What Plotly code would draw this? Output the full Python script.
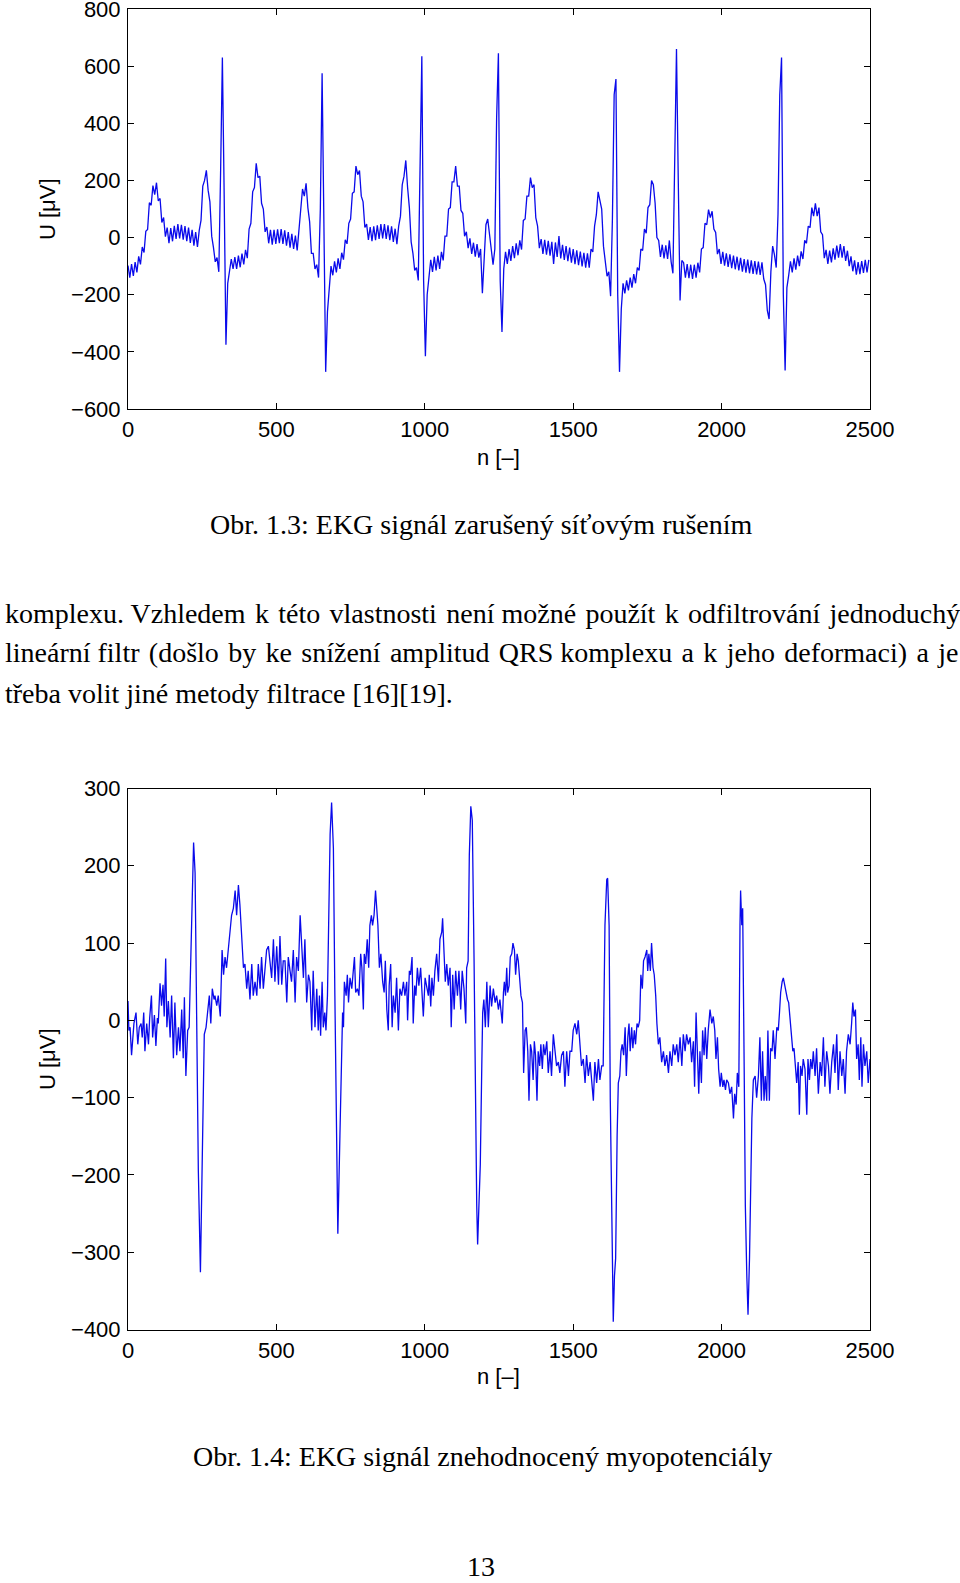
import plotly.graph_objects as go

W, H = 960, 1583
BLUE = "rgb(10,10,235)"

# --- Obr. 1.3: EKG with 50 Hz interference, one reading every 6 samples ---
top_step = 6
u_top_1 = [-98, -140, -93, -134, -86, -122, -66, -94, -33, -52,
           22, 28, 122, 113, 182, 150, 192, 128, 137, 53,
           70, 3, 35, -20, 33, -13, 41, -5, 47, -3,
           45, -7, 40, -13, 35, -19, 27, -28, 19, -33,
           25, 60, 180, 200, 235, 165, 125, 5, -35, -85,
           -70, -120, 230, 630, 150, -375, -160, -115, -75, -110,
           -68, -110, -63, -104, -56, -94, -43, -72, 30, 50,
           160, 175, 260, 210, 215, 120, 100, 20, 37, -20,
           27, -25, 27, -22]
u_top_2 = [29, -20, 30, -22, 25, -28, 19, -35, 13, -40,
           7, -45, 20, 80, 170, 145, 190, 105, 55, -55,
           -55, -110, -95, -140, 100, 575, 50, -470, -260, -170,
           -100, -132, -83, -122, -73, -110, -53, -77, -8, -22,
           50, 65, 155, 160, 250, 220, 235, 145, 125, 35,
           47, -8, 37, -13, 39, -9, 43, -5, 47, -3,
           47, -5, 43, -9, 39, -15, 31, -23, 40, 75,
           185, 215, 270, 175, 105, -15, -55, -115, -105, -150,
           200, 635, -150, -415]
u_top_3 = [-200, -130, -78, -120, -67, -115, -63, -110, -50, -80,
           5, 5, 100, 105, 195, 195, 250, 180, 180, 95,
           85, 5, 20, -37, -3, -57, -18, -67, -23, -70,
           -40, -195, -70, 45, 65, 5, -60, -95, -40, 420,
           645, -150, -330, -110, -50, -92, -40, -82, -30, -72,
           -20, -62, -10, -42, 60, 65, 145, 145, 210, 175,
           185, 70, 40, -37, -5, -57, -8, -60, -11, -63,
           -15, -92, -17, -68, 5, -73, -25, -78, -30, -83,
           -35, -88, -40, -93]
u_top_4 = [-45, -97, -49, -101, -53, -105, -55, -105, -40, -50,
           40, 80, 160, 135, 100, -30, -75, -135, -120, -205,
           60, 500, 555, -200, -470, -250, -160, -195, -150, -185,
           -140, -175, -128, -160, -105, -115, -40, -45, 30, 15,
           105, 115, 200, 185, 120, 0, -10, -68, -25, -73,
           -27, -75, -10, -85, -125, 250, 660, 200, -220, -80,
           -88, -140, -93, -142, -95, -145, -95, -140, -88, -122,
           -40, -35, 50, 45, 98, 70, 92, 30, 18, -58,
           -40, -92, -50, -98]
u_top_5 = [-55, -103, -59, -107, -63, -111, -67, -115, -71, -119,
           -75, -123, -77, -125, -80, -127, -82, -129, -84, -131,
           -87, -145, -165, -255, -285, -120, -30, -60, -105, 80,
           500, 630, -200, -465, -175, -132, -83, -122, -73, -112,
           -63, -100, -48, -75, -10, -20, 40, 35, 105, 75,
           120, 75, 105, 20, 10, -72, -43, -92, -46, -87,
           -38, -77, -28, -70, -23, -70, -30, -82, -46, -100,
           -66, -118, -80, -130, -86, -128, -82, -124, -78, -122,
           -78]

# --- Obr. 1.4: EKG with myopotentials, (sample, value) vertices ---
n_bot_1 = [0, 3, 7, 12, 20, 27, 33, 38, 44, 48, 53, 57, 63, 69, 73, 79, 83, 89, 94, 99,
           102, 108, 113, 118, 122, 127, 131, 136, 142, 147, 153, 158, 164, 170, 175, 181,
           186, 190, 195, 201, 206, 210, 215, 221, 226, 231, 237, 244, 250, 257, 263, 268,
           274, 279, 284, 290, 293, 299, 304, 311, 317, 322, 327, 332, 338, 344, 349, 355,
           361, 366, 372, 377, 383, 389, 394, 400, 405, 411, 417, 422, 428, 434, 439, 445,
           450, 456, 462, 467, 473, 478, 484, 490, 495, 501, 507, 512, 518, 523, 529, 535,
           540, 546, 551, 557, 563, 568, 574, 580, 585, 591, 596, 602, 608]
u_bot_1 = [25, -13, -9, -45, -4, 10, -31, -9, -4, -22, 10, -40, -4, -31, 3, 32, -22, 7, -33, 3,
           -4, 48, 19, 46, 5, 80, -9, 25, -22, 32, -49, 23, -45, -9, -40, 14,
           -49, 30, -72, -13, -9, 50, 146, 230, 191, -13, -195, -326, -195, -18, -9, 14,
           32, -4, 41, 27, 32, 19, 32, 5, 91, 59, 82, 68, 96, 114, 136, 145,
           168, 136, 175, 150, 114, 68, 73, 41, 64, 27, 73, 32, 50, 32, 73, 41,
           82, 41, 68, 91, 96, 73, 55, 105, 50, 96, 46, 109, 46, 77, 77, 23,
           82, 64, 50, 91, 23, 82, 64, 136, 105, 55, 105, 23, 59]
n_bot_2 = [613, 619, 624, 630, 636, 641, 645, 649, 654, 658, 663, 667, 672, 675, 681, 686,
           692, 697, 703, 707, 714, 720, 723, 726, 729, 735, 739, 743, 748, 754, 757, 763,
           767, 773, 778, 784, 788, 793, 796, 801, 806, 811, 815, 820, 824, 829, 834, 838,
           842, 847, 852, 858, 863, 867, 872, 877, 880, 885, 890, 894, 900, 905, 911, 916,
           922, 928, 933, 939, 942, 948, 952, 957, 961, 966, 970, 975, 980, 986, 991, 995,
           1001, 1006, 1012, 1015, 1020, 1024, 1029, 1034, 1040, 1046, 1051, 1057, 1060,
           1065, 1069, 1074, 1079, 1085, 1089, 1094, 1099, 1104, 1110, 1115, 1121, 1126,
           1132, 1138, 1141, 1146, 1150, 1155, 1160, 1166, 1170, 1175, 1178, 1183, 1187,
           1192, 1195, 1199, 1204, 1209, 1214, 1220, 1225, 1231]
u_bot_2 = [50, -13, 64, -9, 41, -13, 32, -20, 50, -9, 10, -13, 32, 100, 241, 282,
           223, 32, -149, -276, -149, -13, 10, -9, 50, 32, 59, 23, 55, 41, 59, 82,
           36, 41, 32, 86, 68, 14, 86, 73, 105, 68, 123, 136, 123, 136, 168, 145,
           123, 68, 86, 50, 36, 77, 14, -13, 45, 73, -9, 32, 10, 55, -13, 41,
           32, 50, 32, 50, 0, 64, 59, 82, -4, 45, 32, 68, 45, 68, 23, 5,
           55, 45, 32, 59, 18, 55, 32, 64, 86, 50, 105, 114, 132,
           86, 50, 73, 45, 68, -9, 59, 14, 64, 32, 64, 14, 64,
           41, -4, 68, 77, 214, 277, 259, 77, -104, -240, -290, -240, -186,
           -59, 10, 27, -9, 50, -9, 45, 18, 41]
n_bot_3 = [1237, 1242, 1248, 1253, 1257, 1261, 1265, 1268, 1272, 1276, 1279, 1284, 1288,
           1293, 1297, 1302, 1306, 1311, 1315, 1320, 1324, 1329, 1333, 1338, 1342, 1347,
           1351, 1356, 1360, 1365, 1369, 1373, 1378, 1382, 1387, 1391, 1396, 1400, 1405,
           1411, 1416, 1422, 1427, 1433, 1439, 1444, 1450, 1455, 1461, 1467, 1472, 1478,
           1484, 1489, 1495, 1500, 1506, 1512, 1517, 1523, 1528, 1534, 1540, 1545, 1551,
           1557, 1562, 1568, 1573, 1579, 1585, 1590, 1596, 1601, 1607, 1613, 1616, 1621,
           1625, 1630, 1635, 1639, 1643, 1648, 1652, 1657, 1661, 1665, 1670, 1675, 1679,
           1684, 1688, 1692, 1697, 1701, 1706, 1710, 1715, 1719, 1724, 1728, 1733, 1737,
           1742, 1748, 1751, 1755, 1760, 1764, 1769, 1773, 1778, 1782, 1787, 1792, 1798,
           1804, 1809, 1815, 1821, 1826, 1832, 1837, 1843, 1849, 1854]
u_bot_3 = [23, 32, 14, 27, 5, -4, 36, 50, 32, 68, 36, 45, 82,
           86, 100, 91, 59, 86, 77, 55, 32, 23, -68, -13, -9, -40,
           -104, -31, -40, -77, -27, -45, -104, -40, -59, -31, -63, -31, -45,
           -27, -68, -40, -72, -18, -45, -59, -54, -68, -45, -40, -86, -40,
           -72, -40, -40, -13, -4, -18, 0, -36, -59, -50, -81, -45, -72,
           -54, -81, -104, -54, -81, -50, -77, -59, -59, 123, 182, 184, 123,
           -104, -285, -390, -331, -308, -149, -81, -72, -40, -31, -45, -9, -72,
           -22, -4, -40, -9, -36, -13, -31, -4, -9, 0, 59, 41, 77,
           82, 91, 64, 86, 64, 100, 68, 59, 32, -4, -31, -22, -54,
           -40, -59, -45, -68, -40, -59, -31, -45, -31, -54]
n_bot_4 = [1860, 1866, 1871, 1877, 1882, 1888, 1894, 1899, 1905, 1909, 1914, 1918, 1923,
           1927, 1932, 1936, 1941, 1945, 1950, 1955, 1961, 1967, 1972, 1977, 1981, 1986,
           1990, 1995, 1999, 2004, 2008, 2013, 2017, 2023, 2028, 2034, 2040, 2044, 2049,
           2053, 2058, 2062, 2064, 2068, 2071, 2076, 2080, 2085, 2089, 2094, 2098, 2102,
           2107, 2113, 2118, 2124, 2129, 2134, 2138, 2143, 2147, 2152, 2156, 2161, 2165,
           2170, 2174, 2180, 2186, 2191, 2195, 2199, 2204, 2208, 2213, 2217, 2222, 2226,
           2231, 2235, 2240, 2244, 2248, 2253, 2258, 2262, 2266, 2271, 2275, 2281, 2287,
           2291, 2296, 2300, 2305, 2309, 2315, 2320, 2326, 2332, 2337, 2343, 2348, 2354,
           2360, 2365, 2371, 2377, 2382, 2388, 2393, 2399, 2405, 2410, 2416, 2421, 2427,
           2433, 2438, 2442, 2446, 2451, 2455, 2460, 2464, 2469, 2473, 2478, 2483, 2489,
           2494, 2500]
u_bot_4 = [-22, -59, -18, -40, -18, -31, -22, -54, -27, -86, 10, -27, -95,
           -40, -81, -13, -45, -9, -50, -13, 14, -4, 5, -13, -50, -22,
           -63, -86, -68, -86, -77, -90, -77, -81, -95, -86, -127, -95, -109,
           -68, -86, 123, 168, 123, 145, -59, -240, -331, -381, -308, -195, -127,
           -77, -72, -100, -72, -22, -104, -40, -104, -72, -104, -13, -104, -36,
           -40, -13, -50, -9, -13, 10, 36, 50, 55, 45, 36, 27, 23,
           0, -27, -40, -36, -59, -81, -54, -122, -59, -72, -50, -63, -122,
           -50, -77, -50, -63, -40, -72, -36, -95, -54, -72, -22, -86, -40,
           -59, -95, -54, -31, -68, -18, -90, -40, -72, -50, -95, -40, -18,
           -31, -4, 23, 5, 14, -50, -31, -77, -22, -86, -31, -59, -40,
           -81, -50]

x_ticks = [0, 500, 1000, 1500, 2000, 2500]
y_ticks_top = [-600, -400, -200, 0, 200, 400, 600, 800]
y_ticks_bot = [-400, -300, -200, -100, 0, 100, 200, 300]

u_top = u_top_1 + u_top_2 + u_top_3 + u_top_4 + u_top_5
n_top = list(range(0, top_step * len(u_top), top_step))
n_bot = n_bot_1 + n_bot_2 + n_bot_3 + n_bot_4
u_bot = u_bot_1 + u_bot_2 + u_bot_3 + u_bot_4


def px(x):
    return x / W


def py(y):
    return 1 - y / H


fig = go.Figure()
fig.add_trace(go.Scatter(x=n_top, y=u_top, mode="lines",
                         line=dict(color=BLUE, width=1.3), xaxis="x", yaxis="y"))
fig.add_trace(go.Scatter(x=n_bot, y=u_bot, mode="lines",
                         line=dict(color=BLUE, width=1.3), xaxis="x2", yaxis="y2"))

tick_font = dict(family="Liberation Sans, Arial, sans-serif", size=22, color="black")
ax = dict(showline=True, linecolor="black", linewidth=1, mirror="ticks",
          ticks="inside", ticklen=6, tickwidth=1, tickcolor="black",
          showgrid=False, zeroline=False, tickfont=tick_font, automargin=False,
          ticklabeloverflow="allow")

fig.update_layout(
    template="none",
    width=W, height=H, margin=dict(l=0, r=0, t=0, b=0, pad=0),
    paper_bgcolor="white", plot_bgcolor="white", showlegend=False,
    xaxis=dict(ax, domain=[px(128), px(870)], range=[0, 2500], tickvals=x_ticks,
               anchor="y", ticklabelstandoff=1),
    yaxis=dict(ax, domain=[py(409), py(9)], range=[-600, 800], tickvals=y_ticks_top,
               anchor="x", ticklabelstandoff=2),
    xaxis2=dict(ax, domain=[px(128), px(870)], range=[0, 2500], tickvals=x_ticks,
                anchor="y2", ticklabelstandoff=1),
    yaxis2=dict(ax, domain=[py(1329.5), py(788.5)], range=[-400, 300], tickvals=y_ticks_bot,
                anchor="x2", ticklabelstandoff=2),
)

serif = dict(family="Liberation Serif, Times New Roman, serif", size=28, color="black")
sans = dict(family="Liberation Sans, Arial, sans-serif", size=22, color="black")


def note(text, x, y, font, xanchor="center", angle=0):
    fig.add_annotation(text=text, x=px(x), y=py(y), xref="paper", yref="paper",
                       xanchor=xanchor, yanchor="middle", showarrow=False,
                       textangle=angle, font=font)


def justify(line, extra):
    # spread `extra` hair spaces evenly over the word gaps of a justified line
    words = line.split()
    gaps = len(words) - 1
    out = words[0]
    for i in range(gaps):
        wide = (i + 1) * extra // gaps > i * extra // gaps
        out += (" \u200a" if wide else " ") + words[i + 1]
    return out


note("n [–]", 498, 457, sans)
note("U [μV]", 47, 209, sans, angle=-90)
note("n [–]", 498, 1376, sans)
note("U [μV]", 47, 1059, sans, angle=-90)

note("Obr. 1.3: EKG signál zarušený síťovým rušením", 481, 524, serif)
note(justify("komplexu. Vzhledem k této vlastnosti není možné použít k odfiltrování jednoduchý", 8),
     3, 614, serif, xanchor="left")
note(justify("lineární filtr (došlo by ke snížení amplitud QRS komplexu a k jeho deformaci) a je", 12),
     3, 653, serif, xanchor="left")
note("třeba volit jiné metody filtrace [16][19].", 3, 693, serif, xanchor="left")
note("Obr. 1.4: EKG signál znehodnocený myopotenciály", 482, 1456, serif)
note("13", 481, 1566, serif)

fig.write_html("out.html", config={"displayModeBar": False},
               post_script="document.body.style.margin='0';")
